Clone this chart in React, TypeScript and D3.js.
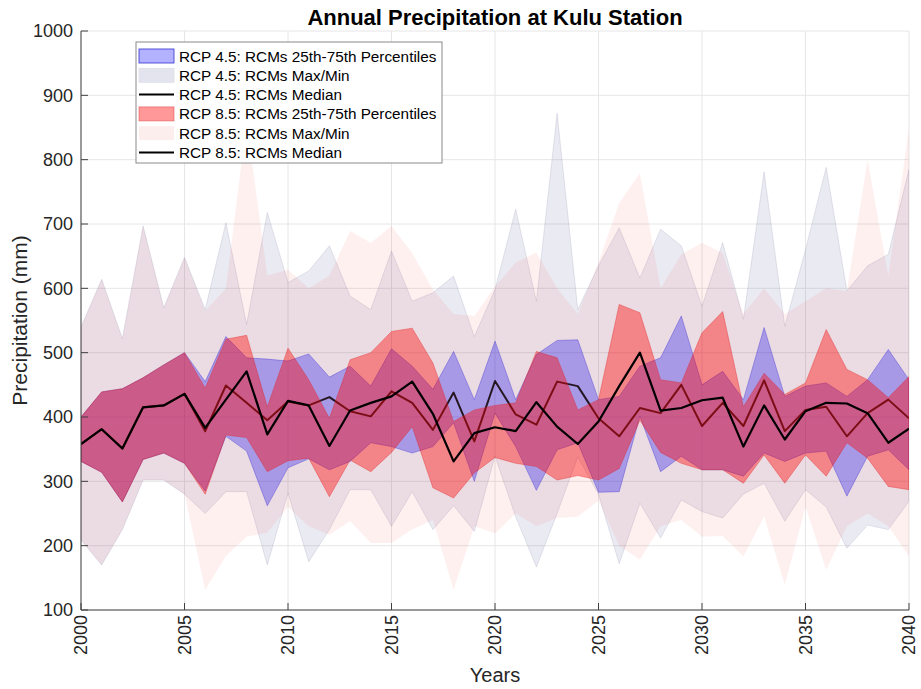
import * as d3 from "d3";

const years = d3.range(2000, 2041);

// RCP 4.5 ensemble stats (mm)
const rcp45Max = [540, 614, 522, 697, 570, 648, 567, 702, 544, 718, 609, 627, 666, 588, 567, 658, 580, 593, 619, 525, 598, 723, 580, 872, 567, 635, 694, 616, 692, 666, 572, 671, 552, 781, 541, 660, 788, 596, 635, 653, 785];
const rcp45Min = [209, 170, 225, 302, 302, 280, 250, 284, 284, 170, 282, 175, 225, 287, 287, 230, 284, 225, 262, 222, 339, 245, 167, 250, 338, 280, 172, 266, 212, 271, 253, 243, 280, 297, 238, 287, 260, 196, 232, 225, 269];
const rcp45Hi = [400, 439, 444, 461, 481, 500, 455, 525, 492, 490, 487, 498, 462, 479, 448, 506, 479, 443, 502, 427, 518, 427, 497, 519, 520, 427, 432, 479, 492, 557, 450, 471, 427, 539, 432, 448, 453, 432, 458, 505, 458];
const rcp45Lo = [331, 314, 268, 334, 344, 328, 285, 370, 347, 262, 321, 335, 318, 331, 360, 354, 344, 354, 391, 300, 406, 354, 286, 349, 360, 283, 284, 401, 315, 339, 318, 318, 308, 344, 331, 344, 347, 277, 339, 349, 318];
const rcp45Med = [358, 381, 351, 415, 418, 436, 378, 449, 422, 395, 424, 418, 431, 409, 401, 440, 422, 380, 438, 362, 456, 404, 388, 455, 448, 398, 370, 414, 406, 450, 386, 422, 386, 457, 378, 411, 416, 370, 406, 427, 398];

// RCP 8.5 ensemble stats (mm)
const rcp85Max = [540, 614, 522, 697, 570, 648, 565, 600, 860, 620, 629, 600, 620, 689, 671, 697, 655, 598, 560, 557, 603, 640, 656, 600, 560, 640, 733, 779, 600, 653, 671, 655, 560, 600, 560, 580, 600, 596, 800, 620, 850];
const rcp85Min = [209, 170, 225, 302, 302, 280, 131, 184, 214, 220, 260, 230, 217, 238, 204, 204, 225, 240, 131, 230, 219, 250, 230, 243, 245, 270, 200, 178, 230, 240, 214, 215, 183, 245, 139, 260, 162, 230, 250, 230, 183];
const rcp85Hi = [400, 439, 444, 461, 481, 500, 445, 521, 527, 416, 507, 458, 398, 489, 500, 533, 538, 484, 393, 411, 418, 422, 502, 492, 411, 427, 575, 562, 458, 453, 531, 564, 416, 468, 435, 453, 536, 474, 458, 430, 463];
const rcp85Lo = [331, 314, 268, 334, 344, 328, 280, 372, 368, 315, 332, 336, 276, 333, 315, 345, 385, 290, 274, 313, 337, 328, 323, 302, 309, 302, 320, 395, 345, 328, 318, 318, 297, 341, 297, 341, 308, 360, 336, 292, 287];
const rcp85Med = [358, 381, 351, 415, 418, 436, 383, 427, 471, 373, 425, 418, 355, 410, 422, 432, 455, 405, 331, 375, 384, 378, 423, 385, 358, 393, 448, 500, 410, 414, 426, 430, 354, 418, 365, 409, 422, 421, 406, 360, 382];

const xTicks = d3.range(2000, 2041, 5);
const yTicks = d3.range(100, 1001, 100);

const legendItems = [
  { label: "RCP 4.5: RCMs 25th-75th Percentiles", kind: "patch", fill: "rgba(0,0,255,0.3)", stroke: "#3030d0" },
  { label: "RCP 4.5: RCMs Max/Min", kind: "patch", fill: "rgb(228,228,238)", stroke: "rgb(222,222,232)" },
  { label: "RCP 4.5: RCMs Median", kind: "line" },
  { label: "RCP 8.5: RCMs 25th-75th Percentiles", kind: "patch", fill: "rgba(255,0,0,0.4)", stroke: "rgba(220,60,60,0.6)" },
  { label: "RCP 8.5: RCMs Max/Min", kind: "patch", fill: "rgb(253,238,238)", stroke: "none" },
  { label: "RCP 8.5: RCMs Median", kind: "line" },
];

const W = 921;
const H = 689;
const margin = { left: 81, right: 12, top: 31, bottom: 79 };
const font = "Arial, 'Liberation Sans', Helvetica, sans-serif";
const axisColor = "#404040";

export default function App() {
  const x = d3.scaleLinear().domain([2000, 2040]).range([margin.left, W - margin.right]);
  const y = d3.scaleLinear().domain([100, 1000]).range([H - margin.bottom, margin.top]);
  const [x0, x1] = x.range();
  const [y0, y1] = y.range();

  const band = (lo: number[], hi: number[]) =>
    d3.area<number>()
      .x((d) => x(d))
      .y0((_, i) => y(lo[i]))
      .y1((_, i) => y(hi[i]))(years) || "";
  const line = (vals: number[]) =>
    d3.line<number>()
      .x((d) => x(d))
      .y((_, i) => y(vals[i]))(years) || "";

  const lx = 136, ly = 42, lw = 306, lh = 121, rowH = 19.3;

  return (
    <svg width={W} height={H} style={{ position: "absolute", left: 0, top: 0, background: "#fff" }} fontFamily={font}>
      <defs>
        <clipPath id="plot">
          <rect x={x0} y={y1} width={x1 - x0} height={y0 - y1} />
        </clipPath>
      </defs>

      {/* grid */}
      {xTicks.map((t) => (
        <line key={"gx" + t} x1={x(t)} x2={x(t)} y1={y0} y2={y1} stroke="#e6e6e6" strokeWidth={1} />
      ))}
      {yTicks.map((t) => (
        <line key={"gy" + t} x1={x0} x2={x1} y1={y(t)} y2={y(t)} stroke="#e6e6e6" strokeWidth={1} />
      ))}

      <g clipPath="url(#plot)">
        {/* RCP 4.5 */}
        <path d={band(rcp45Min, rcp45Max)} fill="rgb(112,112,168)" fillOpacity={0.15} stroke="rgb(120,120,160)" strokeOpacity={0.3} strokeWidth={0.6} />
        <path d={band(rcp45Lo, rcp45Hi)} fill="rgb(0,0,255)" fillOpacity={0.3} stroke="rgb(40,40,220)" strokeOpacity={0.45} strokeWidth={0.8} />
        <path d={line(rcp45Med)} fill="none" stroke="#000" strokeWidth={2} strokeLinejoin="round" strokeOpacity={0.85} />
        {/* RCP 8.5 */}
        <path d={band(rcp85Min, rcp85Max)} fill="rgb(255,0,0)" fillOpacity={0.06} stroke="none" />
        <path d={band(rcp85Lo, rcp85Hi)} fill="rgb(255,0,0)" fillOpacity={0.4} stroke="rgb(220,30,30)" strokeOpacity={0.45} strokeWidth={0.8} />
        <path d={line(rcp85Med)} fill="none" stroke="#000" strokeWidth={2.2} strokeLinejoin="round" />
      </g>

      {/* axes */}
      <line x1={x0} x2={x0} y1={y0} y2={y1} stroke={axisColor} strokeWidth={1} />
      <line x1={x0} x2={x1} y1={y0} y2={y0} stroke={axisColor} strokeWidth={1} />
      {yTicks.map((t) => (
        <g key={"yt" + t}>
          <line x1={x0} x2={x0 + 7} y1={y(t)} y2={y(t)} stroke={axisColor} />
          <text x={x0 - 8} y={y(t)} dy="0.36em" textAnchor="end" fontSize={18} fill="#262626">{t}</text>
        </g>
      ))}
      {xTicks.map((t) => (
        <g key={"xt" + t}>
          <line x1={x(t)} x2={x(t)} y1={y0} y2={y0 - 7} stroke={axisColor} />
          <text transform={`translate(${x(t)},${y0 + 5}) rotate(-90)`} dy="0.36em" textAnchor="end" fontSize={18} fill="#262626">{t}</text>
        </g>
      ))}

      {/* labels */}
      <text x={(x0 + x1) / 2} y={25} textAnchor="middle" fontSize={22} fontWeight="bold" fill="#000">Annual Precipitation at Kulu Station</text>
      <text transform={`translate(27,${(y0 + y1) / 2}) rotate(-90)`} textAnchor="middle" fontSize={21} fill="#262626">Precipitation (mm)</text>
      <text x={(x0 + x1) / 2} y={682} textAnchor="middle" fontSize={20} fill="#262626">Years</text>

      {/* legend */}
      <rect x={lx} y={ly} width={lw} height={lh} fill="#fff" stroke="#8a8a8a" strokeWidth={1} />
      {legendItems.map((it, i) => {
        const cy = ly + 14 + i * rowH;
        return (
          <g key={it.label}>
            {it.kind === "patch" ? (
              <rect x={lx + 3} y={cy - 7} width={35} height={14} fill={it.fill} stroke={it.stroke} strokeWidth={0.8} />
            ) : (
              <line x1={lx + 3} x2={lx + 38} y1={cy} y2={cy} stroke="#000" strokeWidth={2} />
            )}
            <text x={lx + 43} y={cy} dy="0.36em" fontSize={15.3} fill="#000">{it.label}</text>
          </g>
        );
      })}
    </svg>
  );
}
